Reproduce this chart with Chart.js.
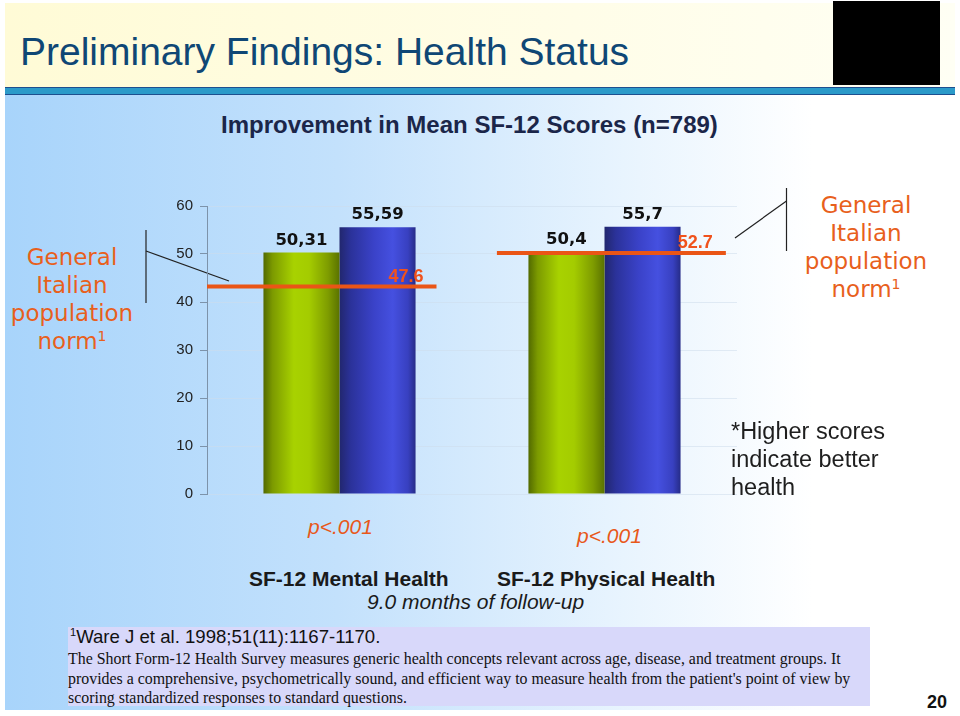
<!DOCTYPE html>
<html>
<head>
<meta charset="utf-8">
<script src="https://cdn.jsdelivr.net/npm/chart.js@4/dist/chart.umd.min.js"></script>
<style>
  body { margin: 0; width: 960px; height: 716px; background: #fff; position: relative; overflow: hidden; font-family: "Liberation Sans", Arial, sans-serif; }
  .abs { position: absolute; white-space: nowrap; }
  #header { left: 5px; top: 3px; width: 950px; height: 85px; background: linear-gradient(to right, #fffbd6, #fffde8 60%, #fffff4); }
  #bar { left: 5px; top: 87px; width: 950px; height: 8px; background: #2b9ac9; border-top: 1px solid #1d4f8f; border-bottom: 1px solid #1d4f8f; box-sizing: border-box; }
  #body { left: 5px; top: 95px; width: 950px; height: 615px; background: linear-gradient(to right, #a8d4fb 0%, #c3e1fc 35%, #e8f4fe 65%, #ffffff 85%); }
  #logo { left: 833px; top: 1px; width: 107px; height: 84px; background: #000; }
  #title { left: 20px; top: 30px; font-size: 39px; line-height: 44px; color: #0f4775; }
  #subtitle { left: 221px; top: 111px; font-size: 24px; line-height: 28px; font-weight: bold; color: #1b2649; }
  .norm { font-family: "DejaVu Sans", Verdana, sans-serif; font-size: 23px; line-height: 28px; color: #e8601c; text-align: center; }
  .norm sup { font-size: 14px; vertical-align: 8px; line-height: 0; }
  #higher { left: 731px; top: 417px; font-size: 23.5px; line-height: 28px; color: #1e1e1e; }
  .p { font-size: 21px; font-style: italic; color: #e8581a; }
  .cat { font-size: 21px; line-height: 24px; font-weight: bold; color: #1a1a1a; }
  #follow { font-size: 21px; font-style: italic; color: #1a1a1a; }
  #refbox { left: 68px; top: 627px; width: 802px; height: 79px; background: #d8d8fa; }
  #ware { left: 70px; top: 626px; font-size: 18.6px; line-height: 22px; color: #111; }
  #ware sup { font-size: 11px; vertical-align: 7px; line-height: 0; }
  #desc { left: 68px; top: 649px; font-family: "Liberation Serif", "Times New Roman", serif; font-size: 15.9px; line-height: 19.5px; color: #111; }
  #page { left: 927px; top: 692px; font-size: 18px; font-weight: bold; color: #111; }
  .chartWrap { left: 140px; top: 190px; width: 620px; height: 320px; }
</style>
</head>
<body>
<div class="abs" id="header"></div>
<div class="abs" id="bar"></div>
<div class="abs" id="body"></div>
<div class="abs" id="logo"></div>
<div class="abs" id="title">Preliminary Findings: Health Status</div>
<div class="abs" id="subtitle">Improvement in Mean SF-12 Scores (n=789)</div>

<div class="abs norm" style="left:-8px; top:243px; width:160px;">General<br>Italian<br>population<br>norm<sup>1</sup></div>
<div class="abs norm" style="left:786px; top:191px; width:160px;">General<br>Italian<br>population<br>norm<sup>1</sup></div>

<svg class="abs" style="left:0; top:0;" width="960" height="716">
  <g stroke="#222" stroke-width="1.2" fill="none">
    <line x1="146" y1="230" x2="146" y2="303"/>
    <line x1="146" y1="251" x2="229" y2="281"/>
    <line x1="786.5" y1="188" x2="786.5" y2="251"/>
    <line x1="786.5" y1="201" x2="735" y2="238"/>
  </g>
</svg>

<div class="abs chartWrap"><canvas id="MyChart"></canvas></div>
<div class="abs chartWrap"><canvas id="NormChart"></canvas></div>

<div class="abs" id="higher">*Higher scores<br>indicate better<br>health</div>
<div class="abs p" style="left:308px; top:515px;">p&lt;.001</div>
<div class="abs p" style="left:577px; top:524px;">p&lt;.001</div>
<div class="abs cat" style="left:249px; top:567px;">SF-12 Mental Health</div>
<div class="abs cat" style="left:497px; top:567px;">SF-12 Physical Health</div>
<div class="abs" id="follow" style="left:367px; top:590px;">9.0 months of follow-up</div>

<div class="abs" id="refbox"></div>
<div class="abs" id="ware"><sup>1</sup>Ware J et al. 1998;51(11):1167-1170.</div>
<div class="abs" id="desc">The Short Form-12 Health Survey measures generic health concepts relevant across age, disease, and treatment groups. It<br>provides a comprehensive, psychometrically sound, and efficient way to measure health from the patient's point of view by<br>scoring standardized responses to standard questions.</div>
<div class="abs" id="page">20</div>

<script>
// values
const categories = ['SF-12 Mental Health', 'SF-12 Physical Health'];
const baseline = [50.31, 50.4];
const followUp = [55.59, 55.7];
const baselineLabels = ['50,31', '50,4'];
const followUpLabels = ['55,59', '55,7'];
// population norm lines: height as drawn on the slide, printed value, extent along the category axis
const normLevel = [43.3, 50.2];
const normLabels = ['47.6', '52.7'];
const normFrom = [-0.5, 0.594];
const normTo = [0.366, 1.458];
const yTicks = [0, 10, 20, 30, 40, 50, 60];

const barPct = 0.574;
const pad = { left: 0, right: 23, top: 15.7, bottom: 14 };
const axisW = 67;

function barGradient(ctx, stops, fallback) {
  let chart = ctx.chart;
  let xs = chart.scales.x;
  if (!xs || !chart.chartArea || ctx.type !== 'data') return fallback;
  let center = xs.getPixelForValue(ctx.dataIndex);
  let catW = xs.width / categories.length;
  let bw = catW * barPct / 2;
  let left = center - bw + ctx.datasetIndex * bw;
  let g = chart.ctx.createLinearGradient(left, 0, left + bw, 0);
  stops.forEach(s => g.addColorStop(s[0], s[1]));
  return g;
}

const greenStops = [[0, '#526a00'], [0.12, '#7c9a00'], [0.4, '#a8d200'], [0.6, '#a4cc00'], [0.85, '#7e9c00'], [1, '#5a7200']];
const blueStops = [[0, '#22276e'], [0.15, '#2b329a'], [0.45, '#3a42c8'], [0.7, '#4550e0'], [0.9, '#3840c0'], [1, '#262c88']];

const valueLabels = {
  id: 'valueLabels',
  afterDatasetsDraw(chart) {
    let ctx = chart.ctx;
    ctx.save();
    ctx.font = 'bold 16.5px "DejaVu Sans", Verdana, sans-serif';
    ctx.fillStyle = '#111';
    ctx.textAlign = 'center';
    ctx.textBaseline = 'alphabetic';
    [baselineLabels, followUpLabels].forEach((labels, di) => {
      chart.getDatasetMeta(di).data.forEach((el, i) => {
        ctx.fillText(labels[i], el.x, el.y - 8);
      });
    });
    ctx.restore();
  }
};

const normLabelPlugin = {
  id: 'normLabels',
  afterDatasetsDraw(chart) {
    let ctx = chart.ctx;
    ctx.save();
    ctx.font = 'bold 18px "Liberation Sans", Arial, sans-serif';
    ctx.fillStyle = '#f0521c';
    ctx.textAlign = 'right';
    ctx.textBaseline = 'alphabetic';
    normLabels.forEach((t, i) => {
      let pts = chart.getDatasetMeta(i).data;
      let end = pts[pts.length - 1];
      ctx.fillText(t, end.x - 13, end.y - 5);
    });
    ctx.restore();
  }
};

new Chart(document.getElementById('MyChart'), {
  type: 'bar',
  data: {
    labels: categories,
    datasets: [{
      label: 'Baseline',
      data: baseline,
      backgroundColor: ctx => barGradient(ctx, greenStops, '#98c000'),
      borderWidth: 0,
      categoryPercentage: barPct,
      barPercentage: 1
    }, {
      label: 'Follow-up',
      data: followUp,
      backgroundColor: ctx => barGradient(ctx, blueStops, '#3a42c8'),
      borderWidth: 0,
      categoryPercentage: barPct,
      barPercentage: 1
    }]
  },
  options: {
    responsive: true,
    maintainAspectRatio: false,
    animation: false,
    layout: { padding: pad },
    plugins: { legend: { display: false }, tooltip: { enabled: false } },
    scales: {
      x: { display: false, offset: true },
      y: {
        min: 0, max: 60,
        afterFit(scale) { scale.width = axisW; },
        afterBuildTicks(scale) { scale.ticks = yTicks.map(v => ({ value: v })); },
        border: { color: '#7d93aa', width: 1 },
        grid: { color: 'rgba(205,220,235,0.55)', tickColor: '#7d93aa', tickLength: 7 },
        ticks: { color: '#222', padding: 7, font: { size: 15, family: '"Liberation Sans", Arial, sans-serif' } }
      }
    }
  },
  plugins: [valueLabels]
});

// norm lines sit on top of the bars, on an identical plot area
new Chart(document.getElementById('NormChart'), {
  type: 'line',
  data: {
    datasets: normLevel.map((v, i) => ({
      data: [{x: normFrom[i], y: v}, {x: normTo[i], y: v}],
      borderColor: '#ea5516',
      borderWidth: 4,
      pointRadius: 0,
      fill: false
    }))
  },
  options: {
    responsive: true,
    maintainAspectRatio: false,
    animation: false,
    layout: { padding: { left: pad.left + axisW, right: pad.right, top: pad.top, bottom: pad.bottom } },
    plugins: { legend: { display: false }, tooltip: { enabled: false } },
    scales: {
      x: { type: 'linear', display: false, offset: false, min: -0.5, max: 1.5 },
      y: { display: false, min: 0, max: 60 }
    }
  },
  plugins: [normLabelPlugin]
});
</script>
</body>
</html>
